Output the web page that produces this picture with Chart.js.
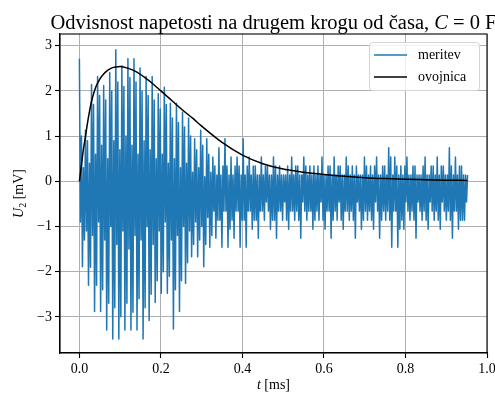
<!DOCTYPE html>
<html lang="sl">
<head>
    <meta charset="utf-8">
    <script src="https://cdn.jsdelivr.net/npm/chart.js@4.4.0/dist/chart.umd.min.js"></script>
    <style>
        body {
            margin: 0;
            background: #fff;
        }
    </style>
</head>

<body>
    <canvas id="napetost" width="495" height="394"></canvas>

    <script>
        // meritev: U2 [mV], vzorec na vsakih korak ms, 6 vzorcev na nihaj
        const korak = 0.00248;
        const meritev = [
            2.71, -0.9, 1.0, -1.89, 0.3, -1.3,
            1.13, -1.1, 0.9, -2.30, 0.4, -1.9,
            2.14, -1.2, 1.7, -2.88, 0.6, -2.3,
            2.32, -0.9, 1.9, -2.88, 0.8, -2.4,
            2.12, -1.3, 1.8, -3.29, 0.5, -2.7,
            2.41, -1.0, 2.0, -3.49, 0.9, -2.8,
            2.91, -1.4, 2.2, -3.49, 0.7, -3.0,
            2.56, -1.1, 2.1, -3.29, 1.0, -2.7,
            2.71, -1.5, 2.3, -3.29, 0.8, -2.9,
            2.71, -1.2, 2.2, -3.29, 0.6, -2.6,
            2.51, -1.3, 2.0, -3.49, 0.9, -2.8,
            2.32, -1.0, 1.9, -3.08, 0.7, -2.5,
            2.32, -1.4, 1.8, -2.68, 0.5, -2.2,
            1.94, -1.1, 1.6, -2.48, 0.6, -2.0,
            2.08, -0.9, 1.7, -2.48, 0.4, -2.1,
            1.73, -1.3, 1.4, -3.27, 0.5, -2.4,
            1.73, -1.2, 1.3, -2.88, 0.3, -2.2,
            1.53, -1.0, 1.2, -2.26, 0.4, -1.8,
            1.40, -1.1, 1.0, -1.67, 0.2, -1.4,
            0.94, -0.9, 0.7, -1.67, 0.3, -1.3,
            1.13, -1.0, 0.8, -1.89, 0.1, -1.4,
            0.94, -0.8, 0.6, -1.46, 0.2, -1.2,
            // od tu naprej samo sum
            0.54, -0.66, 0.34, -1.26, 0.14, -0.86,
            0.74, -0.86, 0.14, -1.46, 0.34, -0.66,
            0.94, -0.66, 0.34, -1.46, 0.14, -1.06,
            0.54, -0.86, 0.14, -1.26, 0.34, -0.66,
            0.54, -0.66, 0.34, -1.46, 0.14, -0.86,
            0.94, -0.86, 0.14, -1.46, 0.34, -0.66,
            0.54, -0.66, 0.14, -1.06, 0.34, -0.86,
            0.34, -0.86, 0.14, -1.26, 0.14, -0.66,
            0.54, -0.66, 0.14, -0.86, 0.34, -0.46,
            0.34, -0.66, 0.14, -1.06, 0.14, -0.86,
            0.54, -0.86, 0.34, -1.26, 0.14, -0.66,
            0.34, -0.66, 0.14, -0.86, 0.14, -0.46,
            0.14, -0.86, 0.34, -1.06, 0.14, -0.66,
            0.54, -0.66, 0.14, -0.86, 0.34, -0.66,
            0.34, -0.86, 0.14, -1.26, 0.14, -0.46,
            0.54, -0.66, 0.34, -0.86, 0.14, -0.66,
            0.34, -0.66, 0.14, -1.06, 0.34, -0.86,
            0.14, -0.66, 0.34, -0.86, 0.14, -0.46,
            0.54, -0.86, 0.14, -1.06, 0.14, -0.66,
            0.34, -0.66, 0.34, -1.26, 0.14, -0.86,
            0.54, -0.66, 0.14, -0.86, 0.34, -0.46,
            0.34, -0.86, 0.14, -1.06, 0.14, -0.66,
            0.54, -0.66, 0.34, -0.86, 0.14, -0.66,
            0.34, -0.86, 0.14, -1.26, 0.34, -0.46,
            0.14, -0.66, 0.14, -1.06, 0.14, -0.86,
            0.54, -0.66, 0.34, -0.86, 0.14, -0.66,
            0.34, -0.86, 0.14, -1.06, 0.34, -0.46,
            0.54, -0.66, 0.14, -1.26, 0.14, -0.86,
            0.34, -0.66, 0.34, -0.86, 0.14, -0.66,
            0.74, -0.86, 0.54, -1.46, 0.14, -0.66,
            0.54, -0.66, 0.34, -1.46, 0.14, -1.06,
            0.34, -0.86, 0.14, -1.06, 0.34, -0.46,
            0.54, -0.66, 0.14, -0.86, 0.14, -0.66,
            0.34, -0.86, 0.34, -1.26, 0.14, -0.46,
            0.14, -0.66, 0.14, -0.86, 0.34, -0.66,
            0.54, -0.86, 0.14, -1.06, 0.14, -0.46,
            0.34, -0.66, 0.34, -0.86, 0.14, -0.66,
            0.54, -0.86, 0.14, -1.06, 0.34, -0.46,
            0.34, -0.66, 0.14, -0.86, 0.14, -0.66,
            0.74, -0.86, 0.34, -1.26, 0.14, -0.66,
            0.54, -0.66, 0.14, -1.06, 0.34, -0.86,
            0.34, -0.86, 0.14, -0.86, 0.14, -0.46,
            0.14
        ];
        const casMeritve = meritev.map((_, i) => +(i * korak).toFixed(5));

        // ovojnica
        const casOvojnice = [0, 0.005, 0.01, 0.015, 0.02, 0.025, 0.03, 0.04, 0.05, 0.06, 0.07, 0.08, 0.09,
            0.1, 0.12, 0.14, 0.16, 0.18, 0.2, 0.22, 0.25, 0.28, 0.3, 0.35, 0.4, 0.45, 0.5, 0.55,
            0.6, 0.65, 0.7, 0.75, 0.8, 0.85, 0.9, 0.952];
        const ovojnica = [0, 0.36, 0.72, 1.0, 1.3, 1.56, 1.78, 2.08, 2.26, 2.38, 2.46, 2.51, 2.53,
            2.54, 2.5, 2.42, 2.3, 2.16, 2.0, 1.84, 1.6, 1.38, 1.22, 0.86, 0.58, 0.39, 0.27, 0.2,
            0.15, 0.11, 0.08, 0.06, 0.045, 0.035, 0.025, 0.02];

        const xTicks = [0, 0.2, 0.4, 0.6, 0.8, 1.0];
        const yTicks = [-3, -2, -1, 0, 1, 2, 3];

        const SERIF = "'Liberation Serif', 'DejaVu Serif', serif";
        Chart.defaults.font.family = SERIF;
        Chart.defaults.color = '#000';

        // izpis besedila iz vec kosov (navadno / lezece)
        function runs(ctx, parts, x, y, align) {
            let w = 0;
            parts.forEach(p => { ctx.font = p.font; w += ctx.measureText(p.text).width; });
            let cx = align === 'center' ? x - w / 2 : x;
            parts.forEach(p => {
                ctx.font = p.font;
                ctx.fillText(p.text, cx, y + (p.dy || 0));
                cx += ctx.measureText(p.text).width;
            });
        }

        const okras = {
            id: 'okras',
            afterDraw(chart) {
                const ctx = chart.ctx;
                const a = chart.chartArea;
                ctx.save();

                // okvir
                ctx.strokeStyle = '#000';
                ctx.lineWidth = 1.1;
                ctx.strokeRect(a.left, a.top, a.right - a.left, a.bottom - a.top);

                ctx.fillStyle = '#000';
                ctx.textBaseline = 'alphabetic';
                ctx.textAlign = 'left';

                // naslov
                const cx = (a.left + a.right) / 2;
                runs(ctx, [
                    { text: 'Odvisnost napetosti na drugem krogu od časa, ', font: '20.5px ' + SERIF },
                    { text: 'C', font: 'italic 20.5px ' + SERIF },
                    { text: ' = 0 F', font: '20.5px ' + SERIF }
                ], cx, 29, 'center');

                // os x
                runs(ctx, [
                    { text: 't', font: 'italic 14px ' + SERIF },
                    { text: ' [ms]', font: '14px ' + SERIF }
                ], cx, 389, 'center');

                // os y
                ctx.save();
                ctx.translate(23, (a.top + a.bottom) / 2);
                ctx.rotate(-Math.PI / 2);
                runs(ctx, [
                    { text: 'U', font: 'italic 14px ' + SERIF },
                    { text: '2', font: '10px ' + SERIF, dy: 3 },
                    { text: ' [mV]', font: '14px ' + SERIF }
                ], 0, 0, 'center');
                ctx.restore();

                // legenda
                const lx = 369.5, ly = 42.5, lw = 110, lh = 48;
                ctx.beginPath();
                ctx.roundRect(lx, ly, lw, lh, 3);
                ctx.fillStyle = 'rgba(255,255,255,0.8)';
                ctx.fill();
                ctx.strokeStyle = '#d5d5d5';
                ctx.lineWidth = 1;
                ctx.stroke();

                const vnosi = [['meritev', '#1f77b4', 55], ['ovojnica', '#000', 77]];
                vnosi.forEach(([ime, barva, y]) => {
                    ctx.beginPath();
                    ctx.moveTo(374, y);
                    ctx.lineTo(407, y);
                    ctx.strokeStyle = barva;
                    ctx.lineWidth = 1.5;
                    ctx.stroke();
                    ctx.fillStyle = '#000';
                    ctx.font = '14px ' + SERIF;
                    ctx.textBaseline = 'middle';
                    ctx.fillText(ime, 418, y);
                });

                ctx.restore();
            }
        };

        const ctx = document.getElementById('napetost');
        const graf = new Chart(ctx, {
            type: 'line',
            data: {
                datasets: [{
                    label: 'meritev',
                    data: casMeritve.map((t, i) => ({ x: t, y: meritev[i] })),
                    borderColor: '#1f77b4',
                    borderWidth: 1.5,
                    borderJoinStyle: 'round',
                    pointRadius: 0,
                    order: 2
                },
                {
                    label: 'ovojnica',
                    data: casOvojnice.map((t, i) => ({ x: t, y: ovojnica[i] })),
                    borderColor: '#000',
                    borderWidth: 1.5,
                    cubicInterpolationMode: 'monotone',
                    pointRadius: 0,
                    order: 1
                }]
            },
            options: {
                responsive: false,
                animation: false,
                devicePixelRatio: 1,
                layout: { padding: { top: 34, right: 8, left: 0, bottom: 0 } },
                plugins: {
                    legend: { display: false },
                    tooltip: { enabled: false }
                },
                scales: {
                    x: {
                        type: 'linear',
                        min: -0.0476,
                        max: 1.0,
                        afterBuildTicks: s => { s.ticks = xTicks.map(v => ({ value: v })); },
                        afterFit: s => { s.height = 41; s.paddingLeft = 0; s.paddingRight = 0; },
                        ticks: {
                            autoSkip: false,
                            maxRotation: 0,
                            padding: 3,
                            font: { size: 14 },
                            callback: v => v.toFixed(1)
                        },
                        grid: { color: '#b0b0b0', lineWidth: 1, tickLength: 5, tickColor: '#000', tickWidth: 1.1 },
                        border: { color: '#000', width: 1.1 }
                    },
                    y: {
                        min: -3.8,
                        max: 3.26,
                        afterBuildTicks: s => { s.ticks = yTicks.map(v => ({ value: v })); },
                        afterFit: s => { s.width = 60; s.paddingTop = 0; s.paddingBottom = 0; },
                        ticks: {
                            autoSkip: false,
                            padding: 3,
                            font: { size: 14 },
                            callback: v => (v < 0 ? '\u2212' + Math.abs(v) : String(v))
                        },
                        grid: { color: '#b0b0b0', lineWidth: 1, tickLength: 5, tickColor: '#000', tickWidth: 1.1 },
                        border: { color: '#000', width: 1.1 }
                    }
                }
            },
            plugins: [okras]
        });
    </script>
</body>

</html>
